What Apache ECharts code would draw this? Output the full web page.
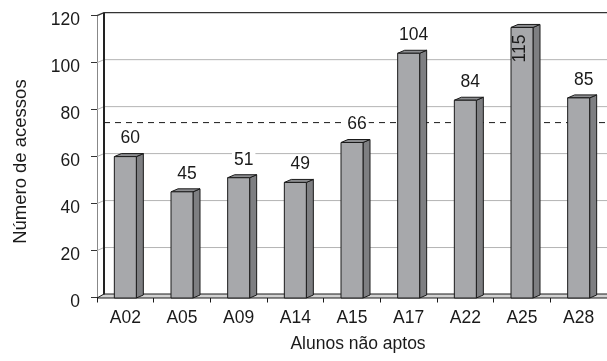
<!DOCTYPE html>
<html>
<head>
<meta charset="utf-8">
<script src="https://cdn.jsdelivr.net/npm/echarts@6/dist/echarts.min.js"></script>
<style>
  html, body { margin: 0; padding: 0; background: #fff; }
  #chart { width: 607px; height: 361px; }
</style>
</head>
<body>
<div id="chart"></div>
<script>
// Acessos por aluno não apto
const alunos = ['A02', 'A05', 'A09', 'A14', 'A15', 'A17', 'A22', 'A25', 'A28'];
const acessos = [60, 45, 51, 49, 66, 104, 84, 115, 85];
const media = 73.2;
const yTicks = [0, 20, 40, 60, 80, 100, 120];

// depth of the 3D box (back wall offset, px)
const DX = 7, DY = -3;
const FONT = '"Liberation Sans", Arial, Helvetica, sans-serif';
const INK = '#1a1a1a';
const FS = 17.5;

const chart = echarts.init(document.getElementById('chart'), null, { renderer: 'canvas' });

// Walls, floor, gridlines and the average line
function renderFrame(params, api) {
  const cs = params.coordSys;
  const L = cs.x, R = cs.x + cs.width;
  const children = [];
  const y0 = api.coord([0, 0])[1];

  // floor slab
  children.push({
    type: 'polygon',
    shape: { points: [[L, y0 + 0.5], [L + DX, y0 + DY - 0.5], [R + DX, y0 + DY - 0.5], [R, y0 + 0.5]] },
    style: { fill: '#d2d2d2', stroke: INK, lineWidth: 1 }
  });

  yTicks.forEach(function (v) {
    if (v === 0) return;
    const yf = api.coord([0, v])[1];
    const top = v === yTicks[yTicks.length - 1];
    children.push({
      type: 'polyline',
      shape: { points: [[L, yf], [L + DX, yf + DY], [R + DX, yf + DY]] },
      style: { stroke: top ? '#333' : '#b4b4b4', lineWidth: top ? 1.3 : 1, fill: null }
    });
  });

  // back edge of the left wall
  const yTop = api.coord([0, yTicks[yTicks.length - 1]])[1];
  children.push({
    type: 'line',
    shape: { x1: L + DX, y1: yTop + DY, x2: L + DX, y2: y0 + DY },
    style: { stroke: '#222', lineWidth: 2 }
  });

  // average line on the back wall
  const ym = api.coord([0, media])[1] + DY;
  children.push({
    type: 'line',
    shape: { x1: L + DX, y1: ym, x2: R + DX, y2: ym },
    style: { stroke: INK, lineWidth: 1, lineDash: [6, 5] }
  });

  return { type: 'group', children: children };
}

// 3D column: front face, right side and top
function renderBar(params, api) {
  const cs = params.coordSys;
  const cat = api.value(0), v = api.value(1);
  const p = api.coord([cat, v]);
  const b = api.coord([cat, 0]);
  const w = 22;
  const x0 = p[0] - w / 2, x1 = p[0] + w / 2;
  const yt = p[1], yb = b[1] + 0.5;
  const edge = { stroke: INK, lineWidth: 1 };
  const children = [
    {
      type: 'polygon',
      shape: { points: [[x1, yt], [x1 + DX, yt + DY], [x1 + DX, yb + DY], [x1, yb]] },
      style: Object.assign({ fill: '#7e7f82' }, edge)
    },
    {
      type: 'polygon',
      shape: { points: [[x0, yt], [x0 + DX, yt + DY], [x1 + DX, yt + DY], [x1, yt]] },
      style: Object.assign({ fill: '#8c8d90' }, edge)
    },
    {
      type: 'rect',
      shape: { x: x0, y: yt, width: w, height: yb - yt },
      style: Object.assign({ fill: '#a7a8ab' }, edge)
    }
  ];

  const ly = yt - 18;
  if (ly - 9 < cs.y) {
    // no room above: write the value vertically inside the column
    children.push({
      type: 'text',
      x: p[0] - 1.5, y: yt + 21, rotation: Math.PI / 2,
      style: { text: String(v), align: 'center', verticalAlign: 'middle',
               fontSize: FS, fontFamily: FONT, fill: INK }
    });
  } else {
    children.push({
      type: 'text',
      x: p[0] + 5, y: ly,
      style: { text: String(v), align: 'center', verticalAlign: 'middle',
               fontSize: FS, fontFamily: FONT, fill: INK,
               backgroundColor: '#fff', padding: [0, 2] }
    });
  }
  return { type: 'group', children: children };
}

chart.setOption({
  animation: false,
  backgroundColor: '#fff',
  textStyle: { fontFamily: FONT },
  grid: { left: 97, right: 0, top: 15.7, bottom: 63.5 },
  xAxis: {
    type: 'category',
    data: alunos,
    boundaryGap: true,
    axisLine: { show: true, lineStyle: { color: INK, width: 1 } },
    axisTick: { show: true, length: 5, lineStyle: { color: INK } },
    axisLabel: { fontSize: FS, color: INK, margin: 12, fontFamily: FONT },
    splitLine: { show: false },
    name: 'Alunos não aptos',
    nameLocation: 'middle',
    nameGap: 37.5,
    nameTextStyle: { fontSize: FS, color: INK, fontFamily: FONT, padding: [0, 0, 0, 12] }
  },
  yAxis: {
    type: 'value',
    min: 0, max: 120, interval: 20,
    axisLine: { show: true, lineStyle: { color: '#888', width: 1 } },
    axisTick: { show: true, length: 6, lineStyle: { color: '#333' } },
    axisLabel: { fontSize: FS, color: INK, margin: 17, fontFamily: FONT,
                 verticalAlign: 'top', lineHeight: 9 },
    splitLine: { show: false },
    name: 'Número de acessos',
    nameLocation: 'middle',
    nameGap: 67,
    nameTextStyle: { fontSize: 18.5, color: INK, fontFamily: FONT, padding: [0, 10, 0, 0] }
  },
  series: [
    {
      type: 'custom',
      name: 'frame',
      renderItem: renderFrame,
      data: [[0, 0]],
      clip: false,
      z: 1,
      silent: true
    },
    {
      type: 'custom',
      name: 'Número de acessos',
      renderItem: renderBar,
      data: acessos.map(function (v, i) { return [i, v]; }),
      encode: { x: 0, y: 1 },
      clip: false,
      z: 3
    }
  ]
});
</script>
</body>
</html>
